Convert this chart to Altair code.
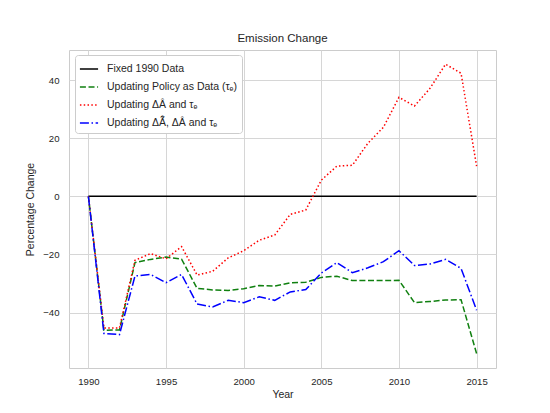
import pandas as pd
import altair as alt

years = list(range(1990, 2016))

fixed_1990 = [0, 0, 0, 0, 0, 0, 0, 0, 0, 0, 0, 0, 0,
              0, 0, 0, 0, 0, 0, 0, 0, 0, 0, 0, 0, 0]
policy_data = [0, -46.1, -46.0, -22.8, -21.7, -20.9, -21.6, -31.7, -32.2, -32.4,
               -31.8, -30.7, -30.9, -29.8, -29.6, -27.9, -27.5, -29.0, -29.0, -29.0,
               -28.9, -36.6, -36.2, -35.7, -35.6, -54.1]
delta_a_hat = [0, -45.3, -45.3, -22.0, -19.7, -21.5, -17.3, -27.1, -25.8, -21.2,
               -18.7, -15.1, -13.3, -6.2, -4.7, 5.6, 10.4, 10.7, 18.3, 23.8,
               34.1, 31.1, 37.2, 45.5, 42.4, 10.4]
delta_both = [0, -47.2, -47.6, -27.4, -26.9, -29.7, -26.9, -37.1, -38.1, -35.8,
              -36.6, -34.6, -35.8, -32.9, -32.1, -26.4, -22.8, -26.3, -24.6, -22.5,
              -18.7, -23.8, -23.3, -21.7, -24.8, -39.2]

series_names = [
    "Fixed 1990 Data",
    "Updating Policy as Data (τₑ)",
    "Updating ΔÂ and τₑ",
    "Updating ΔÃ̂, ΔÂ and τₑ",
]
series_values = [fixed_1990, policy_data, delta_a_hat, delta_both]
series_colors = ["#000000", "#108010", "#ff0000", "#0000ff"]
series_dashes = [[1, 0], [6, 2.6], [1.5, 2.3], [9, 2.6, 1.5, 2.6]]

rows = []
for order, (name, vals) in enumerate(zip(series_names, series_values)):
    for yr, v in zip(years, vals):
        rows.append({"Year": yr, "Change": v, "Series": name, "order": order})
df = pd.DataFrame(rows)

font = "Liberation Sans"
txt = "#262626"

chart = alt.Chart(df).mark_line(strokeWidth=1.5, clip=True).encode(
    x=alt.X("Year:Q", title="Year",
            scale=alt.Scale(domain=[1988.75, 2016.25], nice=False, zero=False),
            axis=alt.Axis(values=[1990, 1995, 2000, 2005, 2010, 2015], format="d",
                          labelPadding=8, titlePadding=4)),
    y=alt.Y("Change:Q", title="Percentage Change",
            scale=alt.Scale(domain=[-59.1, 50.4], nice=False, zero=False),
            axis=alt.Axis(values=[-40, -20, 0, 20, 40], labelPadding=10,
                          titlePadding=7)),
    color=alt.Color("Series:N",
                    scale=alt.Scale(domain=series_names, range=series_colors),
                    legend=alt.Legend(title=None, orient="none", legendX=6, legendY=5,
                                      symbolType="stroke", symbolSize=330,
                                      symbolStrokeWidth=1.5, labelLimit=400,
                                      fillColor="white", strokeColor="#cccccc",
                                      cornerRadius=3, padding=4, rowPadding=2,
                                      labelOffset=8, labelFontSize=10.5,
                                      labelFont=font, labelColor=txt)),
    strokeDash=alt.StrokeDash("Series:N",
                              scale=alt.Scale(domain=series_names, range=series_dashes),
                              legend=alt.Legend(title=None, orient="none", legendX=6,
                                                legendY=5)),
    order=alt.Order("order:Q"),
    detail="order:Q",
).properties(
    width=427, height=318,
    title=alt.TitleParams("Emission Change", fontSize=11.5, font=font, color=txt,
                          fontWeight="normal", offset=6),
    autosize=alt.AutoSizeParams(type="none"),
    padding={"left": 61, "top": 42, "right": 40, "bottom": 36},
).configure_view(
    stroke="#cccccc", strokeWidth=1
).configure_axis(
    grid=True, gridColor="#d6d6d6", gridWidth=1, domain=False, ticks=False, tickSize=0,
    labelFont=font, labelFontSize=9.6, labelColor=txt,
    titleFont=font, titleFontSize=10.5, titleColor=txt, titleFontWeight="normal",
)

chart.save("out.html", embed_options={"renderer": "svg", "actions": False})
